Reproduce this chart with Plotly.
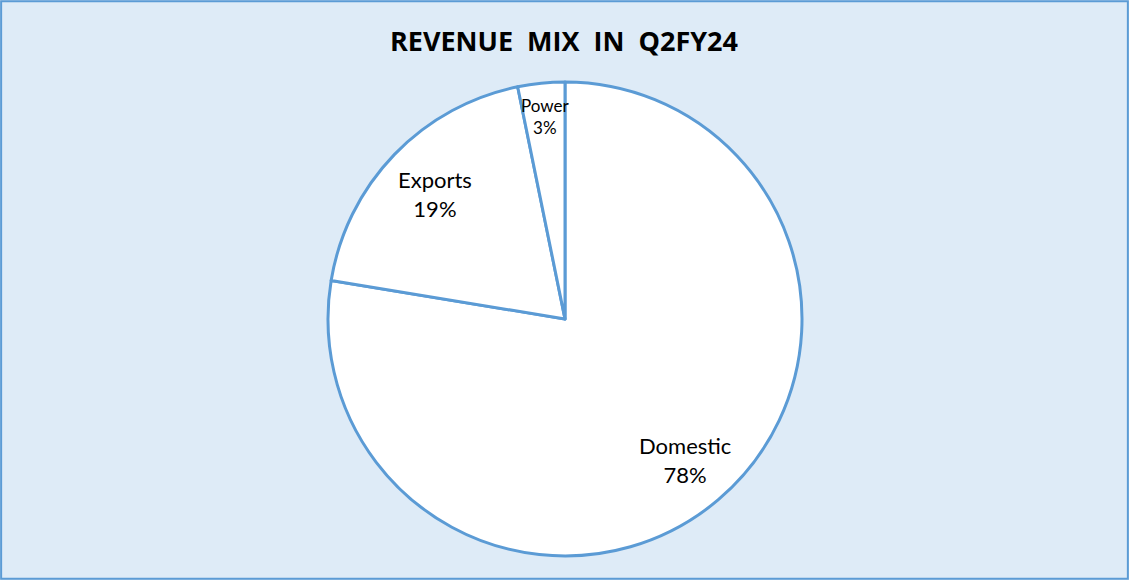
import math
import plotly.graph_objects as go

# Data
categories = ["Domestic", "Exports", "Power"]
shares = [77.6, 19.2, 3.2]
label_text = ["78%", "19%", "3%"]

W, H = 1129, 580
BLUE = "#5B9BD5"
BG = "#DEEBF7"

# pie geometry (pixels)
cx, cy, R = 565, 319, 237
label_radius = [0.78, 0.76, 0.86]
label_size = [22, 22, 17]

fig = go.Figure(go.Pie(
    labels=categories,
    values=shares,
    sort=False,
    direction="clockwise",
    rotation=0,
    marker=dict(colors=["#FFFFFF"] * 3, line=dict(color=BLUE, width=3)),
    textinfo="none",
    hoverinfo="label+percent",
    showlegend=False,
    domain=dict(x=[(cx - R) / W, (cx + R) / W], y=[1 - (cy + R) / H, 1 - (cy - R) / H]),
))

total = sum(shares)
cum = 0
annotations = []
for cat, v, pct, rf, fs in zip(categories, shares, label_text, label_radius, label_size):
    mid = (cum + v / 2) / total * 2 * math.pi
    cum += v
    px = cx + rf * R * math.sin(mid)
    py = cy - rf * R * math.cos(mid)
    annotations.append(dict(
        x=px / W, y=1 - py / H, xref="paper", yref="paper",
        text=f"{cat}<br>{pct}", showarrow=False,
        font=dict(family="Lato, Open Sans, sans-serif", size=fs, color="#000000"),
        align="center", xanchor="center", yanchor="middle",
    ))

annotations.append(dict(
    x=564 / W, y=1 - 40 / H, xref="paper", yref="paper",
    text="<b>REVENUE  MIX  IN  Q2FY24</b>", showarrow=False,
    font=dict(family="Open Sans, sans-serif", size=27, color="#000000"),
    xanchor="center", yanchor="middle",
))

fig.update_layout(
    width=W, height=H,
    margin=dict(l=0, r=0, t=0, b=0),
    paper_bgcolor=BG, plot_bgcolor=BG,
    annotations=annotations,
    shapes=[dict(type="rect", xref="paper", yref="paper", x0=0.001, y0=0.002, x1=0.999, y1=0.998,
                 line=dict(color=BLUE, width=2), fillcolor="rgba(0,0,0,0)")],
)

fig.write_html("out.html", config={"displayModeBar": False},
               post_script="document.body.style.margin='0';document.body.style.overflow='hidden';")
